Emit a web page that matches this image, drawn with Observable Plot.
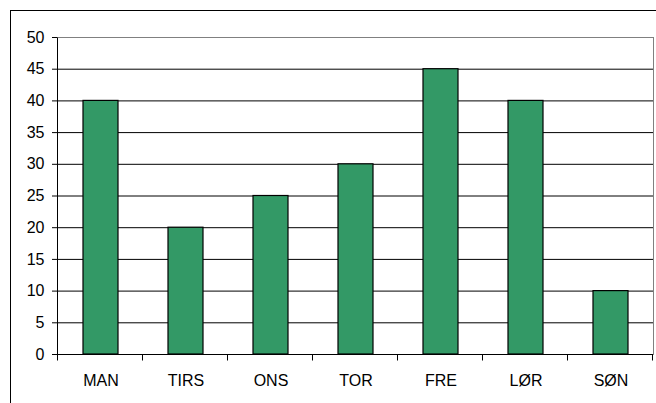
<!DOCTYPE html>
<html>
<head>
<meta charset="utf-8">
<script src="https://cdn.jsdelivr.net/npm/d3@7"></script>
<script src="https://cdn.jsdelivr.net/npm/@observablehq/plot@0.6"></script>
<style>
  html, body { margin: 0; padding: 0; background: #fff; }
  #wrap { position: relative; width: 656px; height: 403px; overflow: hidden; }
  #border { position: absolute; left: 10px; top: 9.5px; width: 700px; height: 500px; border: 1.5px solid #000; box-sizing: border-box; }
  #chart { position: absolute; left: 0; top: 0; }
</style>
</head>
<body>
<div id="wrap">
  <div id="border"></div>
  <div id="chart"></div>
</div>
<script>
const days = ["MAN", "TIRS", "ONS", "TOR", "FRE", "LØR", "SØN"];
const values = [40, 20, 25, 30, 45, 40, 10];
const yTicks = [0, 5, 10, 15, 20, 25, 30, 35, 40, 45, 50];

const data = days.map((d, i) => ({day: d, value: values[i]}));

const plot = Plot.plot({
  width: 656,
  height: 403,
  marginLeft: 57,
  marginRight: 3,
  marginTop: 37,
  marginBottom: 49,
  style: {fontFamily: "'Liberation Sans', Arial, sans-serif", fontSize: "16px", color: "#000", background: "transparent", overflow: "visible"},
  x: {domain: days, padding: 0, label: null},
  y: {domain: [0, 50], ticks: yTicks, label: null},
  marks: [
    Plot.frame({stroke: "#808080"}),
    Plot.ruleY(yTicks.filter(t => t > 0 && t < 50), {stroke: "#000"}),
    Plot.barY(data, {x: "day", y: "value", fill: "#339966", stroke: "#000", strokeWidth: 1.2, insetLeft: 25, insetRight: 25}),
    Plot.ruleY([0], {stroke: "#000"}),
    Plot.axisY(yTicks, {tickSize: 5, tickPadding: 8, label: null, stroke: "#000"}),
    Plot.axisX({tickSize: 0, tickPadding: 20, label: null})
  ]
});

document.getElementById("chart").appendChild(plot);

// left axis line and category boundary ticks, derived from Plot's scales
const xs = plot.scale("x");
const ys = plot.scale("y");
const svg = d3.select(plot);
const g = svg.append("g").attr("stroke", "#000").attr("transform", "translate(0.5,0.5)");
const x0 = xs.range[0];
const y0 = ys.apply(0);
const yTop = ys.apply(50);
g.append("line").attr("x1", x0).attr("x2", x0).attr("y1", yTop).attr("y2", y0);
const step = xs.step !== undefined ? xs.step : (xs.range[1] - xs.range[0]) / days.length;
for (let i = 0; i <= days.length; i++) {
  const x = Math.round(x0 + i * step);
  g.append("line").attr("x1", x).attr("x2", x).attr("y1", y0).attr("y2", y0 + 6);
}
</script>
</body>
</html>
